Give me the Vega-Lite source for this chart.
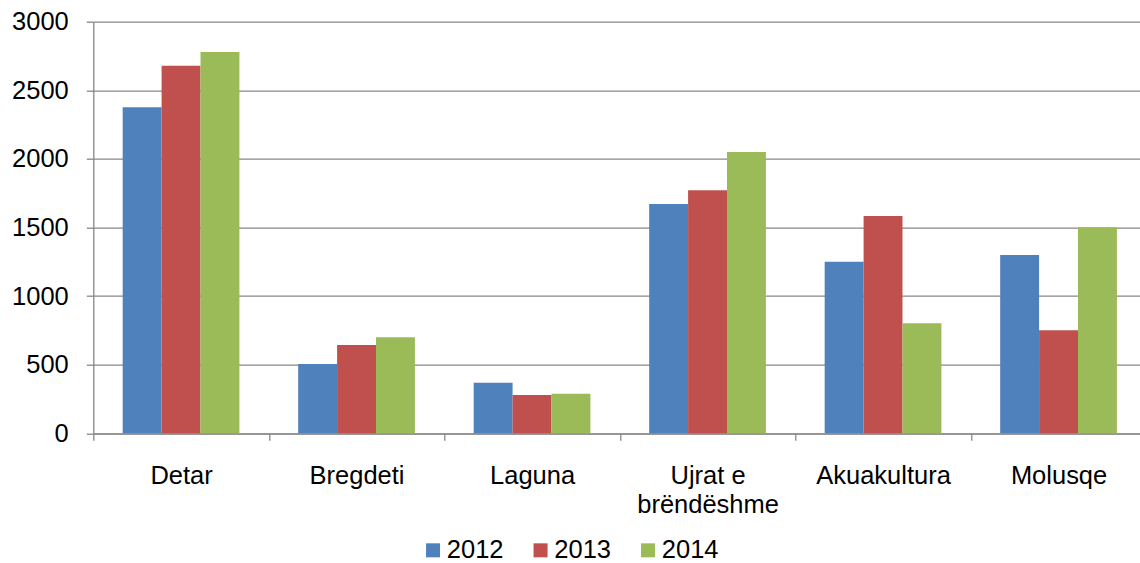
{
  "$schema": "https://vega.github.io/schema/vega-lite/v6.json",
  "autosize": {"type": "none"},
  "padding": {"left": 93.3, "top": 21.7, "right": 0, "bottom": 129.7},
  "width": 1053,
  "height": 411.6,
  "background": "#ffffff",
  "config": {
    "view": {"stroke": null},
    "font": "Liberation Sans"
  },
  "data": {
    "values": [
      {"kategoria": "Detar", "viti": "2012", "vlera": 2376},
      {"kategoria": "Detar", "viti": "2013", "vlera": 2679},
      {"kategoria": "Detar", "viti": "2014", "vlera": 2779},
      {"kategoria": "Bregdeti", "viti": "2012", "vlera": 505},
      {"kategoria": "Bregdeti", "viti": "2013", "vlera": 643},
      {"kategoria": "Bregdeti", "viti": "2014", "vlera": 700},
      {"kategoria": "Laguna", "viti": "2012", "vlera": 369},
      {"kategoria": "Laguna", "viti": "2013", "vlera": 279},
      {"kategoria": "Laguna", "viti": "2014", "vlera": 289},
      {"kategoria": "Ujrat e brëndëshme", "viti": "2012", "vlera": 1671},
      {"kategoria": "Ujrat e brëndëshme", "viti": "2013", "vlera": 1771},
      {"kategoria": "Ujrat e brëndëshme", "viti": "2014", "vlera": 2050},
      {"kategoria": "Akuakultura", "viti": "2012", "vlera": 1251},
      {"kategoria": "Akuakultura", "viti": "2013", "vlera": 1584},
      {"kategoria": "Akuakultura", "viti": "2014", "vlera": 802},
      {"kategoria": "Molusqe", "viti": "2012", "vlera": 1300},
      {"kategoria": "Molusqe", "viti": "2013", "vlera": 751},
      {"kategoria": "Molusqe", "viti": "2014", "vlera": 1501}
    ]
  },
  "mark": {"type": "bar"},
  "encoding": {
    "x": {
      "field": "kategoria",
      "type": "nominal",
      "sort": null,
      "title": null,
      "scale": {"paddingInner": 0, "paddingOuter": 0},
      "axis": {
        "tickBand": "extent",
        "labelAngle": 0,
        "labelFontSize": 25.5,
        "labelColor": "#000000",
        "labelPadding": 23.5,
        "labelBaseline": "top",
        "labelLineHeight": 28.5,
        "labelExpr": "datum.label == 'Ujrat e brëndëshme' ? ['Ujrat e', 'brëndëshme'] : datum.label",
        "domainColor": "#878787",
        "domainWidth": 1.3,
        "tickColor": "#878787",
        "tickWidth": 1.3,
        "tickSize": 7,
        "grid": false
      }
    },
    "xOffset": {
      "field": "viti",
      "type": "nominal",
      "scale": {"paddingInner": 0, "paddingOuter": 0.755}
    },
    "y": {
      "field": "vlera",
      "type": "quantitative",
      "title": null,
      "scale": {"domain": [0, 3000], "nice": false},
      "axis": {
        "values": [0, 500, 1000, 1500, 2000, 2500, 3000],
        "format": "d",
        "labelFontSize": 25.5,
        "labelColor": "#000000",
        "labelPadding": 18,
        "domainColor": "#878787",
        "domainWidth": 1.3,
        "tickColor": "#878787",
        "tickWidth": 1.3,
        "tickSize": 7,
        "grid": true,
        "gridColor": "#878787",
        "gridWidth": 1.3
      }
    },
    "color": {
      "field": "viti",
      "type": "nominal",
      "title": null,
      "scale": {"domain": ["2012", "2013", "2014"], "range": ["#4F81BD", "#C0504D", "#9BBB59"]},
      "legend": {
        "orient": "none",
        "direction": "horizontal",
        "legendX": 327,
        "legendY": 515.5,
        "padding": 0,
        "symbolType": "square",
        "symbolSize": 196,
        "symbolStrokeWidth": 0,
        "labelFontSize": 25.5,
        "labelColor": "#000000",
        "labelOffset": 1,
        "columnPadding": 23.5
      }
    }
  }
}
